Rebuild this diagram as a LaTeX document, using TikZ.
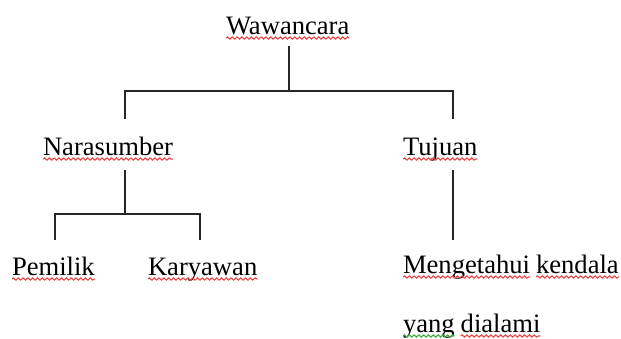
\documentclass[tikz,border=0pt]{standalone}
\usepackage{fontspec}
\setmainfont{Liberation Serif}
\usetikzlibrary{decorations.pathmorphing}
\definecolor{spellred}{RGB}{235,70,70}
\definecolor{spellgreen}{RGB}{60,170,60}
\tikzset{
  lbl/.style={anchor=base west,inner sep=0pt,outer sep=0pt,font=\fontsize{13.3}{16}\selectfont,text=black},
  tree/.style={line width=1pt,draw=black!85},
  squig/.style={decorate,decoration={snake,amplitude=0.55pt,segment length=2.4pt},line width=0.55pt},
}
\begin{document}
\begin{tikzpicture}[x=0.5pt,y=-0.5pt]
\useasboundingbox (0,0) rectangle (621,338);
% labels
\node[lbl] (waw) at (226,34) {Wawancara};
\node[lbl] (nar) at (43,155) {Narasumber};
\node[lbl] (tuj) at (403,155) {Tujuan};
\node[lbl] (pem) at (12,275) {Pemilik};
\node[lbl] (kar) at (148,275) {Karyawan};
\node[lbl] (men) at (403,273) {Mengetahui};
\node[lbl] (ken) at ([xshift=3pt]men.base east) {kendala};
\node[lbl] (yan) at (403,332) {yang};
\node[lbl] (dia) at ([xshift=3pt]yan.base east) {dialami};
% spelling underlines
\foreach \n in {waw,nar,tuj,pem,kar,men,ken,dia}{
  \draw[squig,spellred] ([yshift=-2pt]\n.base west) -- ([yshift=-2pt]\n.base east);
}
\draw[squig,spellgreen] ([yshift=-2pt]yan.base west) -- ([yshift=-2pt]yan.base east);
% junction coordinates
\coordinate (w0) at (289,46);
\coordinate (w1) at (289,91);
\coordinate (wl) at (125,91);
\coordinate (wr) at (453,91);
\coordinate (wl2) at (125,119);
\coordinate (wr2) at (453,119);
\coordinate (n0) at (125,170);
\coordinate (n1) at (125,214);
\coordinate (nl) at (55,214);
\coordinate (nr) at (200,214);
\coordinate (nl2) at (55,240);
\coordinate (nr2) at (200,240);
\coordinate (t0) at (453,170);
\coordinate (t1) at (453,240);
% tree lines
\draw[tree] (w0) -- (w1);
\draw[tree] (wl2) -- (wl) -- (wr) -- (wr2);
\draw[tree] (n0) -- (n1);
\draw[tree] (nl2) -- (nl) -- (nr) -- (nr2);
\draw[tree] (t0) -- (t1);
\end{tikzpicture}
\end{document}
